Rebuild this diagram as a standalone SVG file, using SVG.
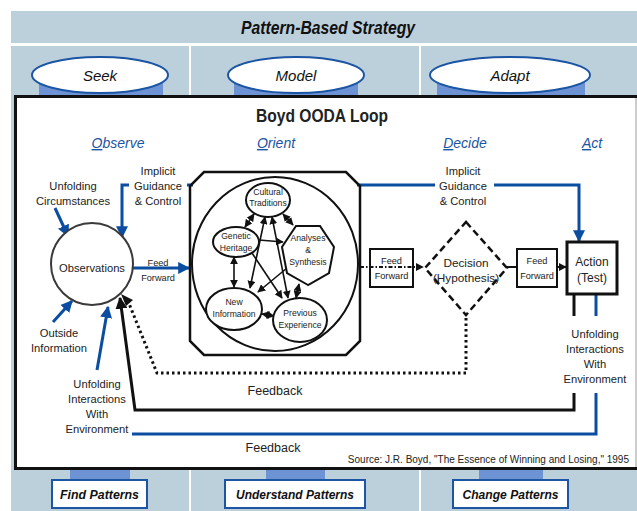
<svg xmlns="http://www.w3.org/2000/svg" width="637" height="511" viewBox="0 0 637 511">
<style>
.t{font-family:"Liberation Sans Narrow","Liberation Sans",Arial,sans-serif;fill:#222;text-anchor:middle}
.lb{font-size:11.2px}
.hd{font-weight:bold;font-style:italic;fill:#111}
.it{font-style:italic;fill:#111}
.ph{font-style:italic;fill:#1b55a3}
.band{fill:#bcd0dc}
.tab{fill:#6e93d5}
.oval{fill:#fff;stroke:#1b55a3;stroke-width:2}
.pbox{fill:#fff;stroke:#1b55a3;stroke-width:2}
.bl{fill:none;stroke:#0b4da0;stroke-width:3}
.bk{fill:none;stroke:#111;stroke-width:3}
.thin{fill:none;stroke:#111;stroke-width:1.6}
.node{fill:#fff;stroke:#111;stroke-width:2}
.dot{fill:none;stroke:#111;stroke-width:3;stroke-dasharray:2.5 3}
</style>
<defs>
<marker id="ab" viewBox="0 0 10 10" refX="9" refY="5" markerWidth="4" markerHeight="4" orient="auto" markerUnits="strokeWidth"><path d="M0,0 L10,5 L0,10 z" fill="#0b4da0"/></marker>
<marker id="ak" viewBox="0 0 10 10" refX="9" refY="5" markerWidth="4" markerHeight="4" orient="auto" markerUnits="strokeWidth"><path d="M0,0 L10,5 L0,10 z" fill="#111"/></marker>
<marker id="as" viewBox="0 0 10 10" refX="9" refY="5" markerWidth="5" markerHeight="5" orient="auto-start-reverse" markerUnits="strokeWidth"><path d="M0,0 L10,5 L0,10 z" fill="#111"/></marker>
</defs>
<rect width="637" height="511" fill="#fff"/>
<g id="bands">
<rect class="band" x="11" y="11" width="626" height="32"/>
<rect class="band" x="11" y="46" width="626" height="465"/>
<rect x="189" y="46" width="2" height="465" fill="#fff"/>
<rect x="419" y="46" width="2" height="465" fill="#fff"/>
</g>
<g id="header"><text class="t hd" x="328" y="34" font-size="17.5" textLength="174" lengthAdjust="spacingAndGlyphs">Pattern-Based Strategy</text></g>
<g id="seek">
<rect class="tab" x="39" y="75" width="124" height="22"/>
<ellipse class="oval" cx="100" cy="75" rx="68" ry="18"/>
<text class="t it" x="100" y="81" font-size="15">Seek</text>
</g>
<g id="model">
<rect class="tab" x="234" y="75" width="124" height="22"/>
<ellipse class="oval" cx="296" cy="75" rx="68" ry="18"/>
<text class="t it" x="296" y="81" font-size="15">Model</text>
</g>
<g id="adapt">
<rect class="tab" x="437" y="75" width="148" height="22"/>
<ellipse class="oval" cx="510" cy="75" rx="80" ry="18"/>
<text class="t it" x="510" y="81" font-size="15">Adapt</text>
</g>
<g id="find-patterns">
<rect class="tab" x="70" y="466" width="60" height="16"/>
<rect class="pbox" x="52" y="480" width="95" height="28"/>
<text class="t hd" x="99.5" y="499" font-size="13" textLength="79" lengthAdjust="spacingAndGlyphs">Find Patterns</text>
</g>
<g id="understand-patterns">
<rect class="tab" x="266" y="466" width="59" height="16"/>
<rect class="pbox" x="225" y="480" width="140" height="28"/>
<text class="t hd" x="295" y="499" font-size="13" textLength="118" lengthAdjust="spacingAndGlyphs">Understand Patterns</text>
</g>
<g id="change-patterns">
<rect class="tab" x="479" y="466" width="64" height="16"/>
<rect class="pbox" x="453" y="480" width="115" height="28"/>
<text class="t hd" x="510.5" y="499" font-size="13" textLength="96" lengthAdjust="spacingAndGlyphs">Change Patterns</text>
</g>
<g id="ooda-box">
<rect x="15.5" y="96.5" width="640" height="372" fill="#fff" stroke="#111" stroke-width="3"/>
<line x1="636" y1="98" x2="636" y2="467" stroke="#999" stroke-width="1"/>
<text class="t" x="322" y="122" font-size="18" font-weight="bold" fill="#111" textLength="132" lengthAdjust="spacingAndGlyphs">Boyd OODA Loop</text>
<text class="t ph" x="118" y="148" font-size="14"><tspan text-decoration="underline">O</tspan>bserve</text>
<text class="t ph" x="276" y="148" font-size="14"><tspan text-decoration="underline">O</tspan>rient</text>
<text class="t ph" x="465" y="148" font-size="14"><tspan text-decoration="underline">D</tspan>ecide</text>
<text class="t ph" x="592" y="148" font-size="14"><tspan text-decoration="underline">A</tspan>ct</text>
</g>
<g id="connectors">
<line class="bl" x1="55" y1="208" x2="68" y2="236" marker-end="url(#ab)"/>
<path class="bl" d="M129 185 H122 V237" marker-end="url(#ab)"/>
<line class="bl" x1="187" y1="185" x2="193" y2="185"/>
<line class="bl" x1="133" y1="268" x2="189" y2="268" marker-end="url(#ab)"/>
<line class="bl" x1="53" y1="322" x2="72" y2="301" marker-end="url(#ab)"/>
<line class="bl" x1="97" y1="370" x2="108" y2="307" marker-end="url(#ab)"/>
<path class="bl" d="M357 185 H435"/>
<path class="bl" d="M494 185 H579 V241" marker-end="url(#ab)"/>
<line x1="360" y1="267" x2="423" y2="267" stroke="#111" stroke-width="2" stroke-dasharray="4 2 1.5 2" marker-end="url(#ak)"/>
<line x1="507" y1="267" x2="517" y2="267" stroke="#111" stroke-width="2"/>
<line x1="557" y1="267" x2="566" y2="267" stroke="#111" stroke-width="2" marker-end="url(#ak)"/>
<line class="bk" x1="574" y1="294" x2="574" y2="316"/>
<line class="bl" x1="596" y1="294" x2="596" y2="316"/>
<path class="bk" d="M574 393 V410 H135 L120 298" marker-end="url(#ak)"/>
<path class="bl" d="M596 393 V434 H132"/>
<path class="dot" d="M466 318 V373 H157 L128 301"/>
<path d="M121 294 L133 300 L126 306 z" fill="#111"/>
<line class="thin" x1="254" y1="214" x2="245" y2="227" marker-start="url(#as)" marker-end="url(#as)"/>
<line class="thin" x1="283" y1="214" x2="293" y2="225" marker-start="url(#as)" marker-end="url(#as)"/>
<line class="thin" x1="259" y1="240" x2="283" y2="242" marker-end="url(#as)"/>
<line class="thin" x1="234" y1="257" x2="234" y2="287" marker-start="url(#as)" marker-end="url(#as)"/>
<line class="thin" x1="265" y1="217" x2="250" y2="288" marker-start="url(#as)" marker-end="url(#as)"/>
<line class="thin" x1="272" y1="217" x2="288" y2="298" marker-start="url(#as)" marker-end="url(#as)"/>
<line class="thin" x1="252" y1="253" x2="282" y2="298" marker-end="url(#as)"/>
<line class="thin" x1="287" y1="268" x2="258" y2="292" marker-end="url(#as)"/>
<line class="thin" x1="299" y1="284" x2="296" y2="298" marker-start="url(#as)" marker-end="url(#as)"/>
<line class="thin" x1="262" y1="314" x2="274" y2="316" marker-start="url(#as)" marker-end="url(#as)"/>
</g>
<g id="observations">
<circle cx="92" cy="264" r="41" fill="#fff" stroke="#3a3a3a" stroke-width="2"/>
<text class="t lb" x="92" y="272">Observations</text>
</g>
<g id="label-unfolding-circ"><text class="t lb" x="73" y="190">Unfolding</text><text class="t lb" x="73" y="205">Circumstances</text></g>
<g id="label-igc-left"><text class="t lb" x="158" y="175">Implicit</text><text class="t lb" x="158" y="190">Guidance</text><text class="t lb" x="158" y="205">&amp; Control</text></g>
<g id="label-ff-left"><text class="t" x="158" y="266" font-size="9.2">Feed</text><text class="t" x="158" y="281" font-size="9.2">Forward</text></g>
<g id="label-outside"><text class="t lb" x="59" y="337">Outside</text><text class="t lb" x="59" y="352">Information</text></g>
<g id="label-uiwe-left"><text class="t lb" x="97" y="388">Unfolding</text><text class="t lb" x="97" y="403">Interactions</text><text class="t lb" x="97" y="418">With</text><text class="t lb" x="97" y="433">Environment</text></g>
<g id="orient">
<path d="M204 172 H346 L360 186 V341 L346 355 H204 L190 341 V186 Z" fill="none" stroke="#111" stroke-width="2.5"/>
<ellipse cx="275" cy="264" rx="83" ry="87" fill="none" stroke="#111" stroke-width="2"/>
</g>
<g id="cultural-traditions"><ellipse class="node" cx="268" cy="200" rx="22" ry="17"/><text class="t" x="268" y="195" font-size="8.6">Cultural</text><text class="t" x="268" y="206" font-size="8.6">Traditions</text></g>
<g id="genetic-heritage"><ellipse class="node" cx="236" cy="242" rx="23" ry="15"/><text class="t" x="236" y="239" font-size="8.6">Genetic</text><text class="t" x="236" y="251" font-size="8.6">Heritage</text></g>
<g id="analyses-synthesis"><polygon class="node" points="308,285 287,273 282,247 296,226 320,226 334,247 329,273"/><text class="t" x="308" y="241" font-size="8.6">Analyses</text><text class="t" x="308" y="253" font-size="8.6">&amp;</text><text class="t" x="308" y="265" font-size="8.6">Synthesis</text></g>
<g id="new-information"><ellipse class="node" cx="234" cy="309" rx="28" ry="21"/><text class="t" x="234" y="305" font-size="8.6">New</text><text class="t" x="234" y="317" font-size="8.6">Information</text></g>
<g id="previous-experience"><ellipse class="node" cx="300" cy="320" rx="27" ry="22"/><text class="t" x="300" y="316" font-size="8.6">Previous</text><text class="t" x="300" y="328" font-size="8.6">Experience</text></g>
<g id="label-igc-right"><text class="t lb" x="463" y="175">Implicit</text><text class="t lb" x="463" y="190">Guidance</text><text class="t lb" x="463" y="205">&amp; Control</text></g>
<g id="ff-box-1"><rect x="370" y="249" width="43" height="38" fill="none" stroke="#111" stroke-width="2"/><text class="t" x="391.5" y="264" font-size="9.2">Feed</text><text class="t" x="391.5" y="279" font-size="9.2">Forward</text></g>
<g id="decision"><path d="M466 222 L507 268 L466 315 L425 268 Z" fill="#fff" stroke="#111" stroke-width="2.5" stroke-dasharray="7 4"/><text class="t" x="466" y="267" font-size="11.8">Decision</text><text class="t" x="466" y="282" font-size="11.8">(Hypothesis)</text></g>
<g id="ff-box-2"><rect x="517" y="249" width="40" height="38" fill="#fff" stroke="#111" stroke-width="2"/><text class="t" x="537" y="264" font-size="9.2">Feed</text><text class="t" x="537" y="279" font-size="9.2">Forward</text></g>
<g id="action"><rect x="567" y="242" width="50" height="52" fill="#fff" stroke="#111" stroke-width="3"/><text class="t" x="592" y="266" font-size="12">Action</text><text class="t" x="592" y="282" font-size="12">(Test)</text></g>
<g id="label-uiwe-right"><text class="t lb" x="595" y="338">Unfolding</text><text class="t lb" x="595" y="353">Interactions</text><text class="t lb" x="595" y="368">With</text><text class="t lb" x="595" y="383">Environment</text></g>
<g id="feedback-labels"><text class="t" x="275" y="395" font-size="12.5">Feedback</text><text class="t" x="273" y="452" font-size="12.5">Feedback</text></g>
<g id="source"><text class="t" x="629" y="463" font-size="10" style="text-anchor:end">Source:  J.R. Boyd, "The Essence of Winning and Losing," 1995</text></g>
</svg>
